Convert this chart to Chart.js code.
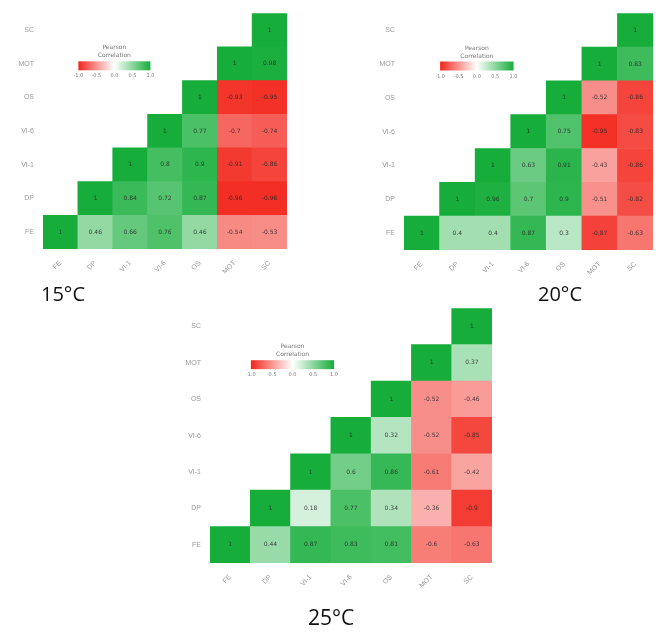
<!DOCTYPE html>
<html>
<head>
<meta charset="utf-8">
<script src="https://cdn.jsdelivr.net/npm/chart.js@4.4.1/dist/chart.umd.min.js"></script>
<style>
  body { margin: 0; background: #fff; width: 657px; height: 636px; position: relative; overflow: hidden; }
  .panel { position: absolute; }
  .temp { position: absolute; font-family: "Open Sans", sans-serif; line-height: 1; color: #111; }
</style>
</head>
<body>
<div class="panel" style="left:0;top:0"><canvas id="c15" width="330" height="285"></canvas></div>
<div class="panel" style="left:340px;top:0"><canvas id="c20" width="317" height="285"></canvas></div>
<div class="panel" style="left:150px;top:295px"><canvas id="c25" width="360" height="310"></canvas></div>
<div class="temp" style="left:41px;top:284px;font-size:20px">15°C</div>
<div class="temp" style="left:538px;top:284px;font-size:20px">20°C</div>
<div class="temp" style="left:308px;top:607px;font-size:21px">25°C</div>

<script>
// variables, bottom row first
const labels = ['FE', 'DP', 'VI-1', 'VI-6', 'OS', 'MOT', 'SC'];
const legendTicks = ['-1.0', '-0.5', '0.0', '0.5', '1.0'];

const r15 = [
  [1, 0.46, 0.66, 0.76, 0.46, -0.54, -0.53],
  [null, 1, 0.84, 0.72, 0.87, -0.96, -0.96],
  [null, null, 1, 0.8, 0.9, -0.91, -0.86],
  [null, null, null, 1, 0.77, -0.7, -0.74],
  [null, null, null, null, 1, -0.93, -0.95],
  [null, null, null, null, null, 1, 0.98],
  [null, null, null, null, null, null, 1]
];
const r20 = [
  [1, 0.4, 0.4, 0.87, 0.3, -0.87, -0.63],
  [null, 1, 0.96, 0.7, 0.9, -0.51, -0.82],
  [null, null, 1, 0.63, 0.91, -0.43, -0.86],
  [null, null, null, 1, 0.75, -0.95, -0.83],
  [null, null, null, null, 1, -0.52, -0.86],
  [null, null, null, null, null, 1, 0.83],
  [null, null, null, null, null, null, 1]
];
const r25 = [
  [1, 0.44, 0.87, 0.83, 0.81, -0.6, -0.63],
  [null, 1, 0.18, 0.77, 0.34, -0.36, -0.9],
  [null, null, 1, 0.6, 0.86, -0.61, -0.42],
  [null, null, null, 1, 0.32, -0.52, -0.85],
  [null, null, null, null, 1, -0.52, -0.46],
  [null, null, null, null, null, 1, 0.37],
  [null, null, null, null, null, null, 1]
];

const GREEN = [22, 173, 58];
const RED = [242, 38, 28];

function colorFor(v) {
  const c = v >= 0 ? GREEN : RED;
  const t = Math.min(1, Math.abs(v));
  const mix = c.map(k => Math.round(255 + (k - 255) * t));
  return `rgb(${mix[0]},${mix[1]},${mix[2]})`;
}

const cellText = {
  id: 'cellText',
  afterDatasetsDraw(chart) {
    const m = chart.options.plugins.cellText.matrix;
    const ctx = chart.ctx;
    ctx.save();
    ctx.font = '6px "DejaVu Sans", sans-serif';
    ctx.fillStyle = 'rgba(40,40,40,0.85)';
    ctx.textAlign = 'center';
    ctx.textBaseline = 'middle';
    m.forEach((row, i) => {
      const meta = chart.getDatasetMeta(i);
      row.forEach((v, j) => {
        if (v === null) return;
        const p = meta.data[j].getCenterPoint();
        ctx.fillText(String(v), p.x, p.y);
      });
    });
    ctx.restore();
  }
};

const colorBar = {
  id: 'colorBar',
  afterDraw(chart) {
    const { left, top, width, height } = chart.chartArea;
    const ctx = chart.ctx;
    const x = left + width * 0.145;
    const w = width * 0.295;
    const y = top + height * 0.204;
    const h = 9;
    const g = ctx.createLinearGradient(x, 0, x + w, 0);
    g.addColorStop(0, colorFor(-1));
    g.addColorStop(0.5, '#ffffff');
    g.addColorStop(1, colorFor(1));
    ctx.save();
    ctx.fillStyle = g;
    ctx.fillRect(x, y, w, h);
    ctx.fillStyle = '#777';
    ctx.textAlign = 'center';
    ctx.font = '6px "DejaVu Sans", sans-serif';
    ctx.fillText('Pearson', x + w / 2, y - 12);
    ctx.fillText('Correlation', x + w / 2, y - 4);
    ctx.font = '5px "DejaVu Sans", sans-serif';
    legendTicks.forEach((t, k) => {
      ctx.fillText(t, x + (w * k) / (legendTicks.length - 1), y + h + 7);
    });
    ctx.restore();
  }
};

function makeChart(id, m, yW, xH, pad) {
  const datasets = m.map((row, i) => ({
    data: row.map(v => (v === null ? null : [i - 0.5, i + 0.5])),
    backgroundColor: row.map(v => (v === null ? 'transparent' : colorFor(v))),
    borderWidth: 0,
    grouped: false,
    barPercentage: 1,
    categoryPercentage: 1
  }));
  new Chart(document.getElementById(id), {
    type: 'bar',
    data: { labels: labels, datasets: datasets },
    options: {
      responsive: false,
      animation: false,
      layout: { padding: pad },
      plugins: {
        legend: { display: false },
        tooltip: { enabled: false },
        cellText: { matrix: m }
      },
      scales: {
        x: {
          grid: { display: false },
          border: { display: false },
          ticks: {
            color: '#999',
            font: { size: 7 },
            maxRotation: 45,
            minRotation: 45,
            padding: 2
          },
          afterFit(s) { s.height = xH; }
        },
        y: {
          min: -0.5,
          max: 6.5,
          grid: { display: false, drawTicks: false },
          border: { display: false },
          afterBuildTicks(s) { s.ticks = labels.map((_, i) => ({ value: i })); },
          ticks: {
            color: '#999',
            font: { size: 7 },
            padding: 9,
            callback: v => labels[v]
          },
          afterFit(s) { s.width = yW; }
        }
      }
    },
    plugins: [cellText, colorBar]
  });
}

makeChart('c15', r15, 43, 36, { left: 0, right: 43, top: 8, bottom: 0 });
makeChart('c20', r20, 64, 35, { left: 0, right: 4, top: 9, bottom: 0 });
makeChart('c25', r25, 60, 42, { left: 0, right: 18, top: 5, bottom: 0 });
</script>
</body>
</html>
